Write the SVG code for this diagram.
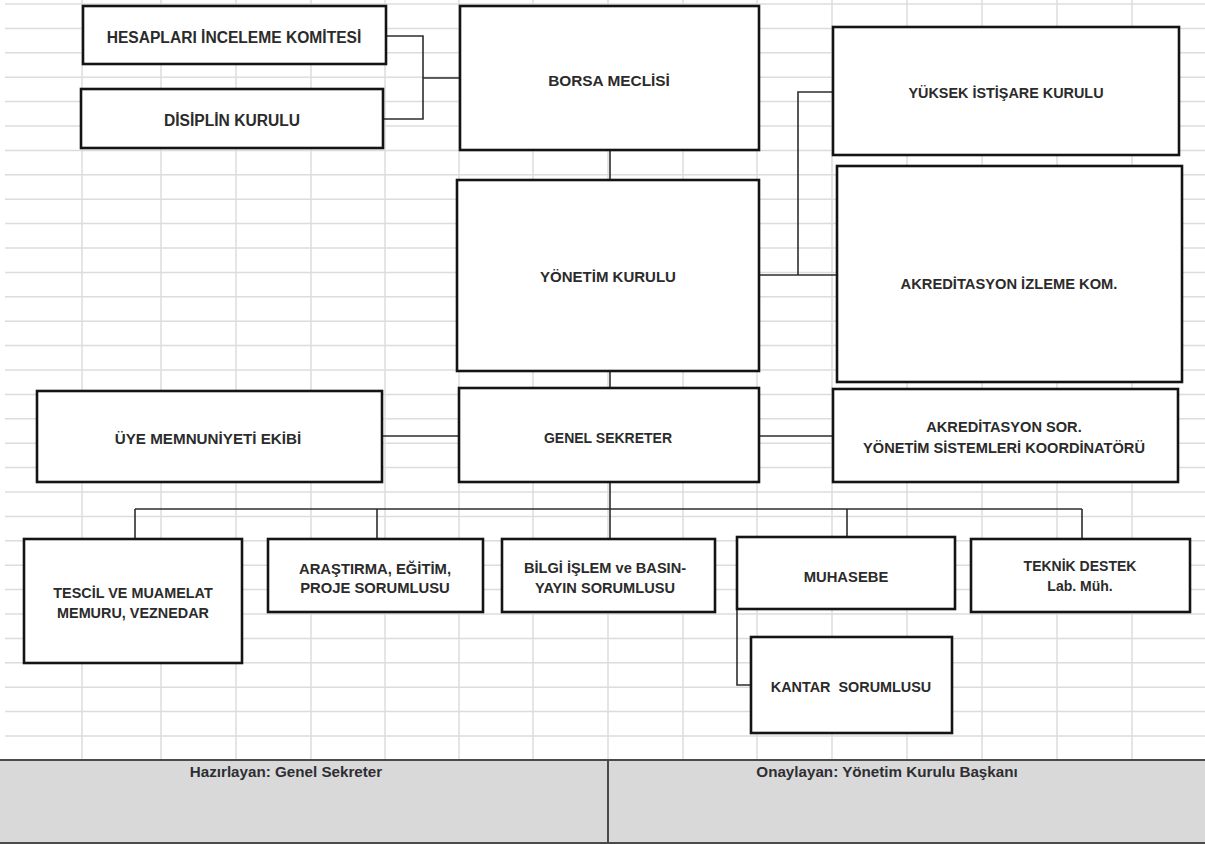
<svg xmlns="http://www.w3.org/2000/svg" width="1205" height="844" viewBox="0 0 1205 844">
<style>
.grid line{stroke:#dcdcdc;stroke-width:1.5}
.node rect{fill:#fff;stroke:#141414;stroke-width:2.6}
.node text{font-family:"Liberation Sans",Arial,sans-serif;font-weight:bold;fill:#2b2b2b;text-anchor:middle}
.conn path{fill:none;stroke:#2e2e2e;stroke-width:1.6}
.foot text{font-family:"Liberation Sans",Arial,sans-serif;font-weight:bold;fill:#2e2e33;text-anchor:middle;font-size:15.2px}
</style>
<rect width="1205" height="844" fill="#fff"/>
<g class="grid" id="grid">
<line x1="5" y1="4" x2="1205" y2="4"/><line x1="5" y1="28.4" x2="1205" y2="28.4"/><line x1="5" y1="52.8" x2="1205" y2="52.8"/><line x1="5" y1="77.2" x2="1205" y2="77.2"/><line x1="5" y1="101.6" x2="1205" y2="101.6"/><line x1="5" y1="126" x2="1205" y2="126"/><line x1="5" y1="150.4" x2="1205" y2="150.4"/><line x1="5" y1="174.8" x2="1205" y2="174.8"/><line x1="5" y1="199.2" x2="1205" y2="199.2"/><line x1="5" y1="223.6" x2="1205" y2="223.6"/><line x1="5" y1="248" x2="1205" y2="248"/><line x1="5" y1="272.4" x2="1205" y2="272.4"/><line x1="5" y1="296.8" x2="1205" y2="296.8"/><line x1="5" y1="321.2" x2="1205" y2="321.2"/><line x1="5" y1="345.6" x2="1205" y2="345.6"/><line x1="5" y1="370" x2="1205" y2="370"/><line x1="5" y1="394.4" x2="1205" y2="394.4"/><line x1="5" y1="418.8" x2="1205" y2="418.8"/><line x1="5" y1="443.2" x2="1205" y2="443.2"/><line x1="5" y1="467.6" x2="1205" y2="467.6"/><line x1="5" y1="492" x2="1205" y2="492"/><line x1="5" y1="516.4" x2="1205" y2="516.4"/><line x1="5" y1="540.8" x2="1205" y2="540.8"/><line x1="5" y1="565.2" x2="1205" y2="565.2"/><line x1="5" y1="589.6" x2="1205" y2="589.6"/><line x1="5" y1="614" x2="1205" y2="614"/><line x1="5" y1="638.4" x2="1205" y2="638.4"/><line x1="5" y1="662.8" x2="1205" y2="662.8"/><line x1="5" y1="687.2" x2="1205" y2="687.2"/><line x1="5" y1="711.6" x2="1205" y2="711.6"/><line x1="5" y1="736" x2="1205" y2="736"/>
<line x1="82" y1="0" x2="82" y2="760"/><line x1="161" y1="0" x2="161" y2="760"/><line x1="236" y1="0" x2="236" y2="760"/><line x1="311" y1="0" x2="311" y2="760"/><line x1="385" y1="0" x2="385" y2="760"/><line x1="459" y1="0" x2="459" y2="760"/><line x1="533" y1="0" x2="533" y2="760"/><line x1="608" y1="0" x2="608" y2="760"/><line x1="683" y1="0" x2="683" y2="760"/><line x1="757" y1="0" x2="757" y2="760"/><line x1="832" y1="0" x2="832" y2="760"/><line x1="907" y1="0" x2="907" y2="760"/><line x1="982" y1="0" x2="982" y2="760"/><line x1="1057" y1="0" x2="1057" y2="760"/><line x1="1132" y1="0" x2="1132" y2="760"/>
</g>
<g class="conn" id="connectors">
<path d="M386 36 H423 V119 H383 M423 78 H460"/>
<path d="M610 150 V180"/>
<path d="M759 275 H837 M798 275 V92 H833"/>
<path d="M610 371 V388"/>
<path d="M382 436 H459 M759 436 H833"/>
<path d="M610 482 V539 M135 509 H1082 M135 509 V539 M377 509 V539 M847 509 V537 M1082 509 V539"/>
<path d="M737 609 V685 H751"/>
</g>
<g class="node" id="hesaplari"><rect x="83" y="6" width="303" height="58"/><text x="234" y="43" font-size="15.6">HESAPLARI İNCELEME KOMİTESİ</text></g>
<g class="node" id="disiplin"><rect x="81" y="89" width="302" height="59"/><text x="232" y="125.5" font-size="15.6">DİSİPLİN KURULU</text></g>
<g class="node" id="borsa"><rect x="460" y="6" width="299" height="144"/><text x="609" y="85.5" font-size="15.4">BORSA MECLİSİ</text></g>
<g class="node" id="yuksek"><rect x="833" y="27" width="346" height="128"/><text x="1006" y="98" font-size="14.4">YÜKSEK İSTİŞARE KURULU</text></g>
<g class="node" id="yonetim"><rect x="457" y="180" width="302" height="191"/><text x="608" y="281.5" font-size="15">YÖNETİM KURULU</text></g>
<g class="node" id="akred-izleme"><rect x="837" y="166" width="345" height="216"/><text x="1009" y="288.5" font-size="14.7">AKREDİTASYON İZLEME KOM.</text></g>
<g class="node" id="uye"><rect x="37" y="391" width="345" height="91"/><text x="208" y="443.5" font-size="15.2">ÜYE MEMNUNİYETİ EKİBİ</text></g>
<g class="node" id="genel"><rect x="459" y="388" width="300" height="94"/><text x="608" y="443" font-size="14">GENEL SEKRETER</text></g>
<g class="node" id="akred-sor"><rect x="833" y="389" width="345" height="93"/><text x="1004" y="432" font-size="14.6">AKREDİTASYON SOR.</text><text x="1004" y="453" font-size="14.6">YÖNETİM SİSTEMLERİ KOORDİNATÖRÜ</text></g>
<g class="node" id="tescil"><rect x="24" y="539" width="218" height="124"/><text x="133" y="598" font-size="14.4">TESCİL VE MUAMELAT</text><text x="133" y="618" font-size="14.4">MEMURU, VEZNEDAR</text></g>
<g class="node" id="arastirma"><rect x="268" y="539" width="215" height="73"/><text x="375" y="573.5" font-size="14.8">ARAŞTIRMA, EĞİTİM,</text><text x="375" y="592.5" font-size="14.8">PROJE SORUMLUSU</text></g>
<g class="node" id="bilgi"><rect x="502" y="539" width="213" height="73"/><text x="605" y="572.5" font-size="14.6">BİLGİ İŞLEM ve BASIN-</text><text x="605" y="592.5" font-size="14.6">YAYIN SORUMLUSU</text></g>
<g class="node" id="muhasebe"><rect x="737" y="537" width="218" height="72"/><text x="846" y="582" font-size="14.8">MUHASEBE</text></g>
<g class="node" id="teknik"><rect x="971" y="539" width="219" height="73"/><text x="1080" y="571" font-size="14">TEKNİK DESTEK</text><text x="1080" y="591" font-size="14">Lab. Müh.</text></g>
<g class="node" id="kantar"><rect x="751" y="637" width="201" height="96"/><text x="851" y="692" font-size="14.4">KANTAR&#160; SORUMLUSU</text></g>
<g class="foot" id="footer">
<rect x="0" y="760" width="1205" height="84" fill="#d9d9d9"/>
<line x1="0" y1="760" x2="1205" y2="760" stroke="#4a4a4a" stroke-width="2"/>
<line x1="0" y1="843" x2="1205" y2="843" stroke="#4a4a4a" stroke-width="2"/>
<line x1="608" y1="760" x2="608" y2="844" stroke="#4a4a4a" stroke-width="2"/>
<text x="286" y="777">Hazırlayan: Genel Sekreter</text>
<text x="887" y="777">Onaylayan: Yönetim Kurulu Başkanı</text>
</g>
</svg>
